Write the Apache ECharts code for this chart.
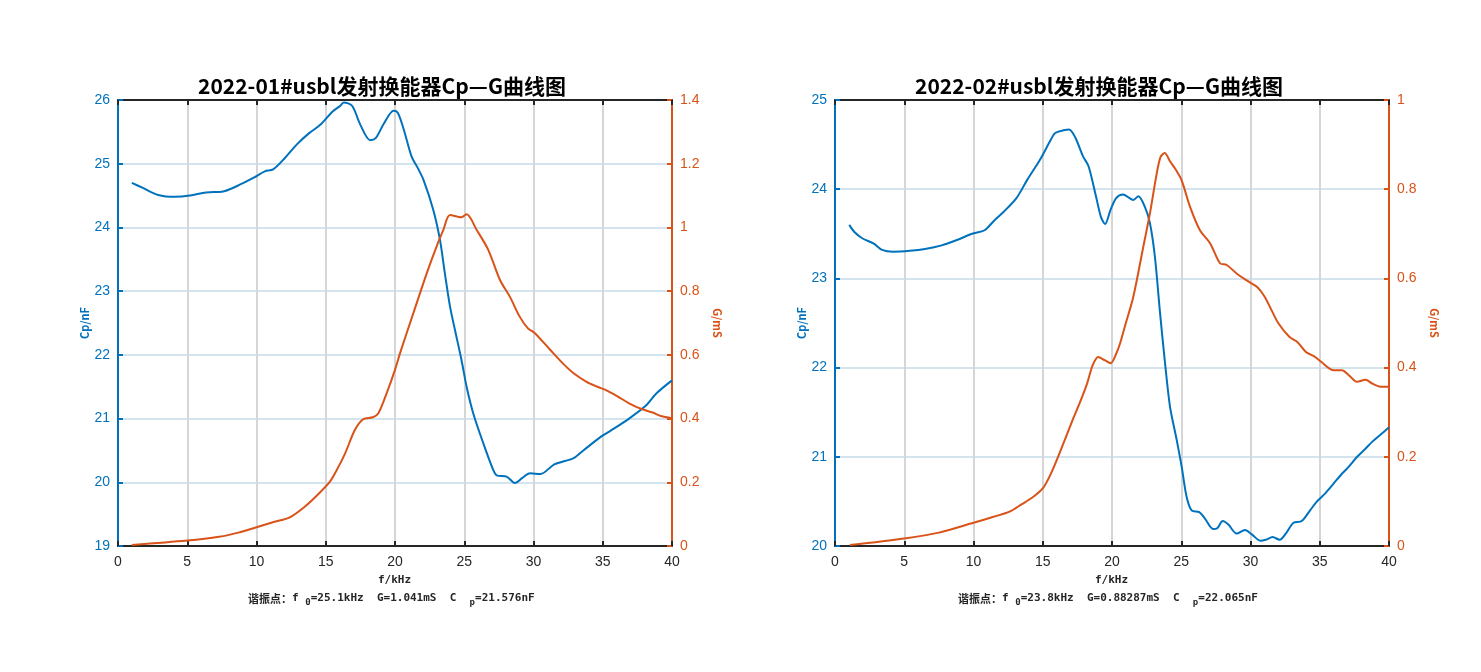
<!DOCTYPE html>
<html>
<head>
<meta charset="utf-8">
<script src="https://cdn.jsdelivr.net/npm/echarts@6/dist/echarts.min.js"></script>
<style>
    html, body { margin: 0; padding: 0; background: #fff; }
    #container { width: 1481px; height: 672px; }
</style>
</head>
<body>
<div id="container"></div>
<script type="text/javascript">
    // 2022-01 Cp (nF)
    var f1Cp = [1, 1.8, 2.9, 4.1, 5.2, 6.35, 7.5, 8.6, 9.8, 10.6, 11.2, 12.05, 12.9, 13.8, 14.6, 15.5, 16.0, 16.3, 16.9, 17.5, 18.2, 18.6, 19.2, 19.9, 20.2, 20.6, 21.2, 21.6, 22.05, 22.77, 23.25, 23.6, 23.97, 24.33, 24.8, 25.17, 25.65, 26.38, 27.1, 27.34, 28.06, 28.66, 29.2, 29.75, 30.5, 31.5, 32.9, 33.6, 34.9, 35.5, 36.9, 38.1, 38.9, 40];
    var cp1 = [24.70, 24.62, 24.51, 24.48, 24.50, 24.55, 24.56, 24.65, 24.78, 24.88, 24.91, 25.09, 25.30, 25.48, 25.61, 25.82, 25.90, 25.96, 25.91, 25.61, 25.37, 25.40, 25.63, 25.83, 25.80, 25.56, 25.11, 24.95, 24.75, 24.27, 23.80, 23.28, 22.76, 22.39, 21.92, 21.50, 21.08, 20.61, 20.19, 20.11, 20.09, 19.99, 20.07, 20.14, 20.13, 20.28, 20.38, 20.5, 20.72, 20.8, 21.0, 21.2, 21.4, 21.6];
    // 2022-01 G (mS)
    var f1G = [1, 5, 7.3, 8.7, 10, 11.3, 12.4, 13.5, 14.4, 15.3, 15.8, 16.4, 17.1, 17.7, 18.4, 18.8, 19.4, 20.0, 20.4, 21.32, 22.29, 23.0, 23.49, 23.97, 24.8, 25.17, 25.9, 26.74, 27.58, 28.3, 29.0, 29.6, 30.1, 31.2, 32.1, 32.9, 33.8, 34.6, 35.2, 36.1, 36.9, 37.8, 38.6, 39.2, 40];
    var g1 = [0.003, 0.017, 0.029, 0.042, 0.059, 0.076, 0.09, 0.124, 0.16, 0.202, 0.239, 0.291, 0.364, 0.398, 0.404, 0.417, 0.48, 0.553, 0.61, 0.73, 0.856, 0.94, 0.992, 1.039, 1.032, 1.041, 0.992, 0.929, 0.835, 0.782, 0.72, 0.683, 0.668, 0.616, 0.574, 0.542, 0.516, 0.5, 0.49, 0.469, 0.448, 0.43, 0.419, 0.408, 0.401];

    // 2022-02 Cp (nF)
    var f2Cp = [1.03, 1.4, 1.97, 2.8, 3.4, 4.2, 5.4, 6.5, 7.7, 8.8, 9.9, 10.8, 11.5, 12.2, 13.1, 13.9, 14.8, 15.6, 15.9, 16.5, 16.9, 17.35, 17.9, 18.3, 18.8, 19.2, 19.5, 19.9, 20.3, 20.8, 21.54, 21.9, 22.38, 22.74, 23.1, 23.47, 23.83, 24.19, 24.67, 25.03, 25.39, 25.75, 26.3, 26.7, 27.3, 27.6, 28.0, 28.4, 29.0, 29.6, 30.1, 30.7, 31.1, 31.6, 32.1, 32.6, 33.1, 33.7, 34.3, 34.8, 35.4, 36.0, 36.6, 37.1, 37.7, 38.3, 38.8, 39.4, 40];
    var cp2 = [23.60, 23.52, 23.45, 23.39, 23.32, 23.30, 23.31, 23.33, 23.37, 23.43, 23.50, 23.54, 23.65, 23.75, 23.90, 24.11, 24.33, 24.56, 24.63, 24.66, 24.67, 24.58, 24.37, 24.26, 23.95, 23.69, 23.61, 23.77, 23.90, 23.94, 23.88, 23.92, 23.80, 23.62, 23.24, 22.61, 22.05, 21.56, 21.19, 20.89, 20.55, 20.40, 20.38, 20.31, 20.19, 20.20, 20.28, 20.24, 20.14, 20.18, 20.13, 20.06, 20.07, 20.10, 20.07, 20.15, 20.26, 20.28, 20.40, 20.50, 20.59, 20.70, 20.81, 20.89, 21.0, 21.09, 21.17, 21.25, 21.33];
    // 2022-02 G (mS)
    var f2G = [1.08, 5, 7.5, 10, 11.5, 12.6, 13.5, 14.3, 15, 15.6, 16.3, 17.2, 17.7, 18.2, 18.6, 19.0, 19.5, 19.9, 20.3, 20.58, 21.0, 21.54, 22.26, 22.74, 23.2, 23.5, 23.8, 24.2, 24.6, 25.03, 25.63, 26.35, 27.08, 27.8, 28.28, 29.0, 29.5, 30.0, 30.5, 31.0, 31.5, 32.0, 32.8, 33.4, 34.0, 34.6, 35.1, 35.6, 36.0, 36.6, 37.1, 37.7, 38.3, 38.8, 39.4, 40];
    var g2 = [0.002, 0.017, 0.03, 0.052, 0.066, 0.077, 0.094, 0.11, 0.129, 0.163, 0.215, 0.286, 0.323, 0.364, 0.405, 0.424, 0.416, 0.41, 0.431, 0.454, 0.50, 0.559, 0.671, 0.746, 0.83, 0.872, 0.881, 0.862, 0.844, 0.82, 0.761, 0.708, 0.679, 0.634, 0.630, 0.611, 0.60, 0.59, 0.58, 0.56, 0.53, 0.50, 0.469, 0.457, 0.435, 0.425, 0.413, 0.40, 0.394, 0.394, 0.383, 0.368, 0.373, 0.364, 0.357, 0.357];

    var titles = ['2022-01#usbl发射换能器Cp—G曲线图', '2022-02#usbl发射换能器Cp—G曲线图'];
    var resonance = [['25.1kHz', '1.041mS', '21.576nF'], ['23.8kHz', '0.88287mS', '22.065nF']];

    var BLUE = '#0072BD', ORANGE = '#D95319';
    var fontNum = '"Liberation Sans", sans-serif';
    var fontCn = '"Noto Sans CJK SC", "DejaVu Sans", sans-serif';
    var fontMono = '"DejaVu Sans Mono", "Noto Sans CJK SC", monospace';

    function zip(xs, ys) {
        return xs.map(function (x, i) { return [x, ys[i]]; });
    }

    var dom = document.getElementById("container");
    var myChart = echarts.init(dom);

    var grids = [
        { left: 118, width: 554, top: 100, height: 446 },
        { left: 835, width: 554, top: 100, height: 446 }
    ];

    function bottomAxis(i) {
        return {
            type: 'value', gridIndex: i, min: 0, max: 40, interval: 5,
            axisLine: { onZero: false, lineStyle: { color: '#262626', width: 2 } },
            axisTick: { inside: true, length: 5, lineStyle: { color: '#262626', width: 2 } },
            axisLabel: { color: '#262626', fontFamily: fontNum, fontSize: 14, margin: 9 },
            splitLine: { show: true, lineStyle: { color: '#d6d6d6', width: 2 } }
        };
    }
    function topAxis(i) {
        return {
            type: 'value', gridIndex: i, position: 'top', min: 0, max: 40, interval: 5,
            axisLine: { onZero: false, lineStyle: { color: '#262626', width: 2 } },
            axisTick: { inside: true, length: 5, lineStyle: { color: '#262626', width: 2 } },
            axisLabel: { show: false },
            splitLine: { show: false }
        };
    }
    function leftAxis(i, mn, mx) {
        return {
            type: 'value', gridIndex: i, position: 'left', min: mn, max: mx, interval: 1,
            name: 'Cp/nF', nameLocation: 'middle', nameGap: 26,
            nameTextStyle: { color: BLUE, fontWeight: 'bold', fontSize: 11, fontFamily: fontCn },
            axisLine: { show: true, onZero: false, lineStyle: { color: BLUE, width: 2 } },
            axisTick: { show: true, inside: true, length: 5, lineStyle: { color: BLUE, width: 2 } },
            axisLabel: { color: BLUE, fontFamily: fontNum, fontSize: 14, margin: 8 },
            splitLine: { show: true, lineStyle: { color: '#d3e4ef', width: 2 } }
        };
    }
    function rightAxis(i, mx) {
        return {
            type: 'value', gridIndex: i, position: 'right', min: 0, max: mx, interval: 0.2,
            name: 'G/mS', nameLocation: 'middle', nameGap: 40, nameRotate: -90,
            nameTextStyle: { color: ORANGE, fontWeight: 'bold', fontSize: 11, fontFamily: fontCn },
            axisLine: { show: true, onZero: false, lineStyle: { color: ORANGE, width: 2 } },
            axisTick: { show: true, inside: true, length: 5, lineStyle: { color: ORANGE, width: 2 } },
            axisLabel: { color: ORANGE, fontFamily: fontNum, fontSize: 14, margin: 8,
                formatter: function (v) { return String(+v.toFixed(1)); } },
            splitLine: { show: false }
        };
    }

    function footText(r) {
        return '{c|谐振点：}{b|f }{s|0}{b|=' + r[0] + '  G=' + r[1] + '  C  }{s|p}{b|=' + r[2] + '}';
    }
    var footRich = {
        c: { fontSize: 11, fontWeight: 'bold', fontFamily: fontCn, fill: '#262626', verticalAlign: 'top', lineHeight: 14 },
        b: { fontSize: 11, fontWeight: 'bold', fontFamily: fontMono, fill: '#262626', verticalAlign: 'top', lineHeight: 14 },
        s: { fontSize: 9, fontWeight: 'bold', fontFamily: fontMono, fill: '#262626', verticalAlign: 'bottom', padding: [8, 0, 0, 0], lineHeight: 14 }
    };

    var option = {
        animation: false,
        backgroundColor: '#fff',
        title: [
            { text: titles[0], left: 377, top: 71, textAlign: 'center',
              textStyle: { fontSize: 21, fontWeight: 'bold', fontFamily: fontCn, color: '#000' } },
            { text: titles[1], left: 1094, top: 71, textAlign: 'center',
              textStyle: { fontSize: 21, fontWeight: 'bold', fontFamily: fontCn, color: '#000' } }
        ],
        grid: grids,
        xAxis: [bottomAxis(0), topAxis(0), bottomAxis(1), topAxis(1)],
        yAxis: [leftAxis(0, 19, 26), rightAxis(0, 1.4), leftAxis(1, 20, 25), rightAxis(1, 1)],
        graphic: [
            { type: 'text', left: 378, top: 575, style: { text: 'f/kHz', fontSize: 11, fontWeight: 'bold', fontFamily: fontMono, fill: '#262626' } },
            { type: 'text', left: 1095, top: 575, style: { text: 'f/kHz', fontSize: 11, fontWeight: 'bold', fontFamily: fontMono, fill: '#262626' } },
            { type: 'text', left: 248, top: 590, style: { text: footText(resonance[0]), rich: footRich } },
            { type: 'text', left: 958, top: 590, style: { text: footText(resonance[1]), rich: footRich } }
        ],
        series: [
            { name: 'Cp1', type: 'line', xAxisIndex: 0, yAxisIndex: 0, data: zip(f1Cp, cp1), smooth: 0.3,
              showSymbol: false, lineStyle: { color: BLUE, width: 2 } },
            { name: 'G1', type: 'line', xAxisIndex: 0, yAxisIndex: 1, data: zip(f1G, g1), smooth: 0.3,
              showSymbol: false, lineStyle: { color: ORANGE, width: 2 } },
            { name: 'Cp2', type: 'line', xAxisIndex: 2, yAxisIndex: 2, data: zip(f2Cp, cp2), smooth: 0.3,
              showSymbol: false, lineStyle: { color: BLUE, width: 2 } },
            { name: 'G2', type: 'line', xAxisIndex: 2, yAxisIndex: 3, data: zip(f2G, g2), smooth: 0.3,
              showSymbol: false, lineStyle: { color: ORANGE, width: 2 } }
        ]
    };

    if (option && typeof option === 'object') {
        myChart.setOption(option);
    }
</script>
</body>
</html>
